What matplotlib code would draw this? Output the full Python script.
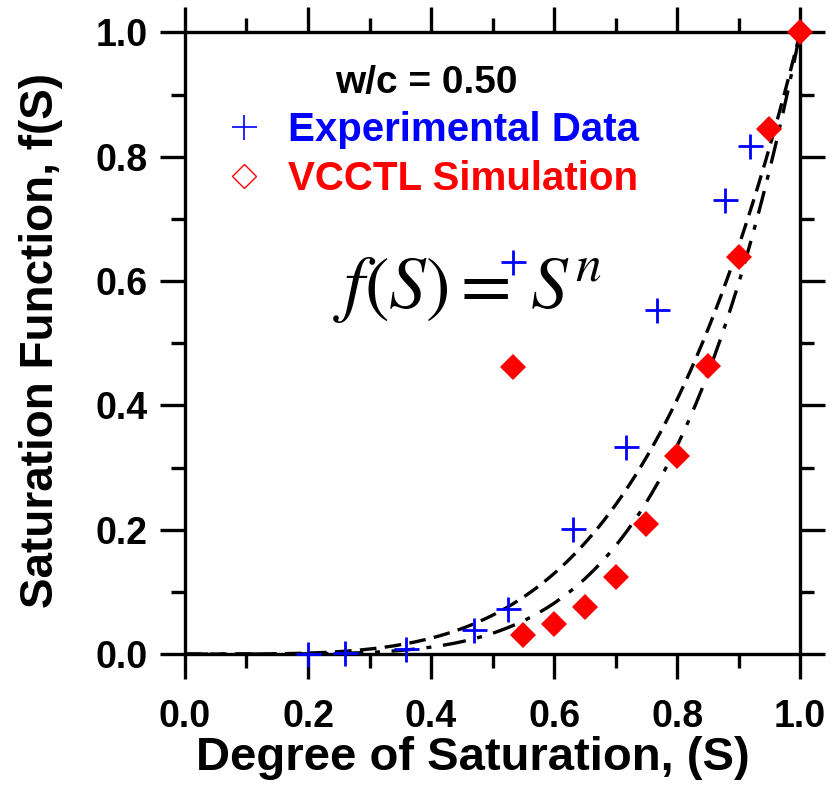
import numpy as np
import matplotlib
matplotlib.use("Agg")
import matplotlib.pyplot as plt
from matplotlib.lines import Line2D
from matplotlib.ticker import MultipleLocator

plt.rcParams['font.family'] = ['Liberation Sans', 'DejaVu Sans']
plt.rcParams['mathtext.fontset'] = 'stix'

# Experimental data (blue crosses)
exp_s = [0.20, 0.26, 0.36, 0.47, 0.525, 0.533, 0.631, 0.717, 0.767, 0.878, 0.919]
exp_f = [0.000, 0.002, 0.008, 0.038, 0.072, 0.630, 0.201, 0.333, 0.554, 0.731, 0.818]

# VCCTL simulation (red diamonds)
sim_s = [0.533, 0.55, 0.60, 0.65, 0.70, 0.75, 0.80, 0.85, 0.90, 0.95, 1.00]
sim_f = [0.462, 0.030, 0.048, 0.076, 0.124, 0.209, 0.319, 0.464, 0.639, 0.844, 1.000]

# exponents of the fitted f(S) = S^n curves
n_exp = 4.0
n_sim = 4.9

fig = plt.figure(figsize=(8.37, 7.89), dpi=100)
ax = fig.add_axes([0.221, 0.171, 0.735, 0.788])

s = np.linspace(0, 1, 300)
ax.plot(s, s ** n_exp, color='black', lw=2.4, linestyle=(0, (5, 2.5)), zorder=2)
ax.plot(s, s ** n_sim, color='black', lw=2.4, linestyle=(0, (7, 3.5, 1.5, 3.5)), zorder=2)

ax.plot(exp_s, exp_f, linestyle='none', marker='+', color='#0000ff',
        markersize=18, markeredgewidth=2.0, zorder=3, clip_on=False)
ax.plot(sim_s, sim_f, linestyle='none', marker='D', color='#ff0000',
        markersize=13, markeredgewidth=0, zorder=3, clip_on=False)

ax.set_xlim(0, 1)
ax.set_ylim(0, 1)
ax.xaxis.set_major_locator(MultipleLocator(0.2))
ax.xaxis.set_minor_locator(MultipleLocator(0.1))
ax.yaxis.set_major_locator(MultipleLocator(0.2))
ax.yaxis.set_minor_locator(MultipleLocator(0.1))
ax.xaxis.set_major_formatter(plt.FormatStrFormatter('%.1f'))
ax.yaxis.set_major_formatter(plt.FormatStrFormatter('%.1f'))

ax.tick_params(which='both', direction='out', top=True, right=True, width=2.4)
ax.tick_params(which='major', length=18, labelsize=27)
ax.tick_params(which='minor', length=10)
ax.tick_params(axis='x', which='major', pad=14)
ax.tick_params(axis='y', which='major', pad=9)
for lbl in ax.get_xticklabels() + ax.get_yticklabels():
    lbl.set_fontweight('bold')
for sp in ax.spines.values():
    sp.set_linewidth(2.4)

ax.set_xlabel('Degree of Saturation, (S)', fontsize=34, fontweight='bold')
ax.set_ylabel('Saturation Function, f(S)', fontsize=33, fontweight='bold')
ax.xaxis.set_label_coords(0.468, -0.131)
ax.yaxis.set_label_coords(-0.198, 0.504)

ax.text(0.393, 0.919, 'w/c = 0.50', fontsize=28, fontweight='bold',
        ha='center', va='center')

handles = [
    Line2D([], [], linestyle='none', marker='+', color='#0000ff',
           markersize=18, markeredgewidth=1.2),
    Line2D([], [], linestyle='none', marker='D', markerfacecolor='none',
           markeredgecolor='#ff0000', markersize=12, markeredgewidth=1.0),
]
ax.legend(handles, ['Experimental Data', 'VCCTL Simulation'],
          loc='upper left', bbox_to_anchor=(0.03, 0.9), frameon=False,
          prop={'size': 29, 'weight': 'bold'}, labelcolor=['#0000ff', '#ff0000'],
          handlelength=1.2, handletextpad=0.5, labelspacing=0.28, borderaxespad=0)

# fitted relation written on the plot
ax.text(0.24, 0.557, r'$f\left(S\right)=\,S^n$', fontsize=53,
        ha='left', va='baseline')

fig.savefig('out.png', dpi=100)
